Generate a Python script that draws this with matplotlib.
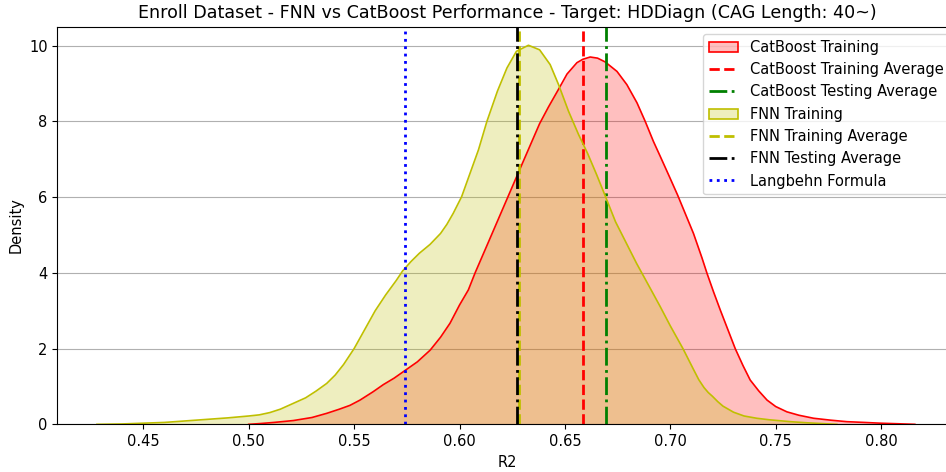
"""
plot.py
───────
Enroll dataset: FNN vs CatBoost R2 density (target HDDiagn, CAG length 40~).
Curves are the KDE outlines read off the original figure.
"""

import matplotlib
matplotlib.use("Agg")
import matplotlib.pyplot as plt
from matplotlib.patches import Patch
from matplotlib.lines import Line2D

# ── Data (density curves) ────────────────────────────────────────
CAT_X = [0.500, 0.5054, 0.512, 0.5212, 0.530, 0.537, 0.543, 0.548, 0.5528, 0.559,
         0.5639, 0.569, 0.5741, 0.580, 0.5861, 0.591, 0.5955, 0.600, 0.6042, 0.6074,
         0.613, 0.6161, 0.6209, 0.6264, 0.632, 0.638, 0.6422, 0.647, 0.651, 0.6557,
         0.6585, 0.662, 0.6655, 0.6691, 0.6747, 0.6794, 0.6842, 0.6881, 0.692, 0.6952,
         0.6995, 0.7035, 0.711, 0.715, 0.7174, 0.7205, 0.7237, 0.7308, 0.7345, 0.7379,
         0.742, 0.7459, 0.750, 0.7553, 0.761, 0.768, 0.776, 0.7838, 0.792, 0.7996,
         0.808, 0.816]
CAT_Y = [0.00, 0.02, 0.05, 0.10, 0.18, 0.29, 0.40, 0.50, 0.64, 0.86,
         1.05, 1.22, 1.42, 1.65, 1.96, 2.30, 2.67, 3.15, 3.55, 4.00,
         4.72, 5.12, 5.74, 6.45, 7.17, 7.94, 8.38, 8.85, 9.25, 9.55,
         9.64, 9.70, 9.67, 9.57, 9.32, 8.97, 8.49, 8.00, 7.47, 7.08,
         6.55, 6.05, 5.04, 4.40, 3.99, 3.50, 3.02, 2.00, 1.55, 1.17,
         0.88, 0.64, 0.47, 0.33, 0.24, 0.16, 0.11, 0.07, 0.05, 0.03,
         0.015, 0.00]

FNN_X = [0.428, 0.440, 0.450, 0.460, 0.470, 0.480, 0.490, 0.500, 0.505, 0.510,
         0.515, 0.521, 0.527, 0.532, 0.537, 0.541, 0.545, 0.550, 0.555, 0.560,
         0.565, 0.570, 0.573, 0.577, 0.581, 0.586, 0.591, 0.594, 0.597, 0.601,
         0.605, 0.609, 0.613, 0.618, 0.6225, 0.627, 0.6327, 0.638, 0.643, 0.647,
         0.6517, 0.6565, 0.6608, 0.665, 0.669, 0.674, 0.679, 0.684, 0.6905, 0.6952,
         0.700, 0.706, 0.711, 0.7135, 0.716, 0.718, 0.720, 0.7225, 0.725, 0.730,
         0.735, 0.741, 0.747, 0.757, 0.765, 0.772, 0.779]
FNN_Y = [0.00, 0.01, 0.03, 0.05, 0.09, 0.13, 0.17, 0.22, 0.25, 0.31,
         0.40, 0.55, 0.70, 0.88, 1.08, 1.30, 1.58, 2.00, 2.50, 3.00,
         3.42, 3.80, 4.05, 4.30, 4.52, 4.75, 5.04, 5.28, 5.57, 6.01,
         6.63, 7.25, 8.00, 8.80, 9.41, 9.85, 10.01, 9.89, 9.50, 8.97,
         8.27, 7.65, 7.15, 6.60, 6.05, 5.35, 4.80, 4.25, 3.59, 3.11,
         2.60, 2.00, 1.45, 1.18, 0.97, 0.84, 0.74, 0.60, 0.48, 0.32,
         0.22, 0.16, 0.12, 0.07, 0.04, 0.02, 0.00]

# ── Reference lines (average R2 values) ──────────────────────────
CAT_TRAIN_AVG = 0.6585
CAT_TEST_AVG  = 0.6693
FNN_TRAIN_AVG = 0.6282
FNN_TEST_AVG  = 0.6272
LANGBEHN      = 0.5741

X_TICKS = [0.45, 0.50, 0.55, 0.60, 0.65, 0.70, 0.75, 0.80]
Y_TICKS = [0, 2, 4, 6, 8, 10]

LABELS = ["CatBoost Training", "CatBoost Training Average",
          "CatBoost Testing Average", "FNN Training",
          "FNN Training Average", "FNN Testing Average",
          "Langbehn Formula"]
TITLE = "Enroll Dataset - FNN vs CatBoost Performance - Target: HDDiagn (CAG Length: 40~)"

plt.rcParams["font.size"] = 10.5


def main():
    fig = plt.figure(figsize=(9.46, 4.72), dpi=100)
    # axes run past the right edge, like the cropped original
    ax = fig.add_axes([0.0606, 0.101, 0.951, 0.8424])

    # ── CatBoost ──────────────────────────────────────────────────
    ax.fill_between(CAT_X, CAT_Y, color="red", alpha=0.25, lw=0)
    ax.plot(CAT_X, CAT_Y, color="red", lw=1.2)
    ax.axvline(CAT_TRAIN_AVG, color="r", ls="--", lw=2)
    ax.axvline(CAT_TEST_AVG, color="g", ls="-.", lw=2)

    # ── FNN ───────────────────────────────────────────────────────
    ax.fill_between(FNN_X, FNN_Y, color="y", alpha=0.25, lw=0)
    ax.plot(FNN_X, FNN_Y, color="y", lw=1.2)
    ax.axvline(FNN_TRAIN_AVG, color="y", ls="--", lw=2)
    ax.axvline(FNN_TEST_AVG, color="k", ls="-.", lw=2)

    ax.axvline(LANGBEHN, color="b", ls=":", lw=2)

    # ── Legend (patches for the fills) ────────────────────────────
    handles = [
        Patch(facecolor=(1, 0, 0, 0.25), edgecolor="red", lw=1.2),
        Line2D([], [], color="r", ls="--", lw=2),
        Line2D([], [], color="g", ls="-.", lw=2),
        Patch(facecolor=(0.75, 0.75, 0, 0.25), edgecolor="y", lw=1.2),
        Line2D([], [], color="y", ls="--", lw=2),
        Line2D([], [], color="k", ls="-.", lw=2),
        Line2D([], [], color="b", ls=":", lw=2),
    ]
    ax.legend(handles, LABELS, loc="upper right", fontsize=10.5)

    ax.set_xlim(0.4092, 0.836)
    ax.set_ylim(0, 10.5)
    ax.set_xticks(X_TICKS)
    ax.set_xticklabels([f"{t:.2f}" for t in X_TICKS])
    ax.set_yticks(Y_TICKS)
    ax.grid(axis="y")
    ax.set_axisbelow(True)
    ax.set_xlabel("R2")
    ax.set_ylabel("Density")
    ax.set_title(TITLE, fontsize=12.6)

    fig.savefig("out.png", dpi=100)
    plt.close(fig)


if __name__ == "__main__":
    main()
